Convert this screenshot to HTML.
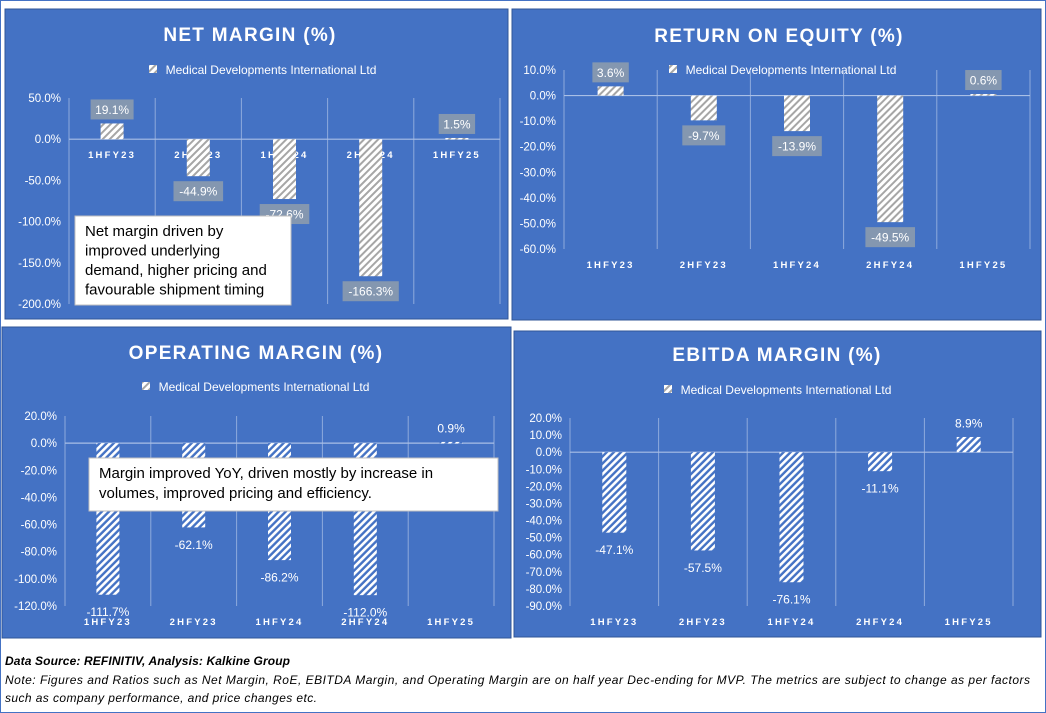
<!DOCTYPE html>
<html><head><meta charset="utf-8"><style>
html,body{margin:0;padding:0;background:#fff;}
svg{display:block;font-family:"Liberation Sans",Arial,sans-serif;}
</style></head><body>
<svg id="s" width="1046" height="713" viewBox="0 0 1046 713" xmlns="http://www.w3.org/2000/svg">
<defs>
<pattern id="hg" patternUnits="userSpaceOnUse" width="5" height="5" patternTransform="rotate(45)"><rect width="5" height="5" fill="#fff"/><rect width="2" height="5" fill="#a6a6a6"/></pattern>
<pattern id="hb" patternUnits="userSpaceOnUse" width="5" height="5" patternTransform="rotate(45)"><rect width="5" height="5" fill="#4472c4"/><rect width="2.6" height="5" fill="#fff"/></pattern>
</defs>
<rect x="0.5" y="0.5" width="1045" height="712" fill="#fff" stroke="#4472c4"/>
<g id="charts"></g>
<text x="5" y="665" font-size="12" font-weight="bold" font-style="italic" fill="#000" textLength="285">Data Source: REFINITIV, Analysis: Kalkine Group</text>
<text x="5" y="684" font-size="12" font-style="italic" fill="#000" textLength="1025">Note: Figures and Ratios such as  Net Margin, RoE, EBITDA Margin, and Operating Margin are on half year Dec-ending for MVP. The metrics are subject to change as per factors</text>
<text x="5" y="702" font-size="12" font-style="italic" fill="#000" textLength="312">such as company performance, and price changes etc.</text>
</svg>
<script>
const categories = ["1HFY23","2HFY23","1HFY24","2HFY24","1HFY25"];
const netMargin = [19.1,-44.9,-72.6,-166.3,1.5];
const roe = [3.6,-9.7,-13.9,-49.5,0.6];
const opMargin = [-111.7,-62.1,-86.2,-112.0,0.9];
const ebitda = [-47.1,-57.5,-76.1,-11.1,8.9];
const nmTicks = [50,0,-50,-100,-150,-200];
const roeTicks = [10,0,-10,-20,-30,-40,-50,-60];
const omTicks = [20,0,-20,-40,-60,-80,-100,-120];
const ebTicks = [20,10,0,-10,-20,-30,-40,-50,-60,-70,-80,-90];

const NS="http://www.w3.org/2000/svg";
const root=document.getElementById('charts');
function mk(tag,attrs,parent,text){const e=document.createElementNS(NS,tag);for(const k in attrs)e.setAttribute(k,attrs[k]);if(text!==undefined)e.textContent=text;(parent||root).appendChild(e);return e;}

const charts=[
 {key:'net-margin',title:'NET MARGIN (%)',vals:netMargin,ticks:nmTicks,panel:[5,9,503,310],tx:250,ty:41,ly:74,lx:265,
  px0:69,px1:500,py0:98,py1:304,catY:159,fill:'url(#hg)',boxed:true,catAtZero:true,bw:23,
  note:{x:75,y:216,w:216,h:89,lines:['Net margin driven by','improved underlying','demand, higher pricing and','favourable shipment timing'],fs:15,lh:19.5}},
 {key:'return-on-equity',title:'RETURN ON EQUITY (%)',vals:roe,ticks:roeTicks,panel:[512,9,529,311],tx:779,ty:42,ly:74,lx:785,
  px0:564,px1:1030,py0:70,py1:249,catY:268,fill:'url(#hg)',boxed:true,catAtZero:false,bw:26},
 {key:'operating-margin',title:'OPERATING MARGIN (%)',vals:opMargin,ticks:omTicks,panel:[2,327,509,311],tx:256,ty:359,ly:391,lx:258,
  px0:65,px1:494,py0:416,py1:606,catY:625,fill:'url(#hb)',boxed:false,catAtZero:false,bw:23,
  note:{x:89,y:458,w:409,h:53,lines:['Margin improved YoY, driven mostly by increase in','volumes, improved pricing and efficiency.'],fs:15,lh:20}},
 {key:'ebitda-margin',title:'EBITDA MARGIN (%)',vals:ebitda,ticks:ebTicks,panel:[514,331,527,306],tx:777,ty:361,ly:394,lx:780,
  px0:570,px1:1013,py0:418,py1:606,catY:625,fill:'url(#hb)',boxed:false,catAtZero:false,bw:24}
];

charts.forEach(c=>{
  const g=mk('g',{});
  
  
  const [x,y,w,h]=c.panel;
  const bg=mk('rect',{x:x,y:y,width:w,height:h,fill:'#4472c4',stroke:'#2f5597','stroke-width':1},g);
  
  
  const t=mk('text',{x:c.tx,y:c.ty,'text-anchor':'middle','font-size':19,'font-weight':'bold','letter-spacing':1.3,fill:'#fff'},g,c.title);
  
  
  const lg=mk('g',{},g);
  
  
  mk('text',{x:c.lx+6,y:c.ly,'text-anchor':'middle','font-size':12,fill:'#fff'},lg,'Medical Developments International Ltd');
  mk('rect',{x:c.lx-116,y:c.ly-9,width:8,height:8,fill:'url(#hg)'},lg);
  const tmax=c.ticks[0],tmin=c.ticks[c.ticks.length-1];
  const Y=v=>c.py0+(tmax-v)/(tmax-tmin)*(c.py1-c.py0);
  const step=(c.px1-c.px0)/categories.length;
  const X=i=>c.px0+step*(i+0.5);
  c.ticks.forEach(tv=>{
    const tl=mk('text',{x:c.px0-8,y:Y(tv)+4,'text-anchor':'end','font-size':11.5,fill:'#fff'},g,tv.toFixed(1)+'%');
    
    
  });
  for(let i=0;i<=categories.length;i++){
    mk('line',{x1:c.px0+step*i,x2:c.px0+step*i,y1:c.py0,y2:c.py1,stroke:'#8eaadc','stroke-width':1},g);
  }
  mk('line',{x1:c.px0,x2:c.px1,y1:Y(0),y2:Y(0),stroke:'#a9bfe6','stroke-width':1.2},g);
  categories.forEach((cat,i)=>{
    const cy=c.catAtZero?Y(0)+19:c.catY;
    const cl=mk('text',{x:X(i),y:cy,'text-anchor':'middle','font-size':9.5,'font-weight':'bold','letter-spacing':2.2,fill:'#fff'},g,cat);
    
    
  });
  c.vals.forEach((v,i)=>{
    const y0=Y(0),y1=Y(v);
    const b=mk('rect',{x:X(i)-c.bw/2,y:Math.min(y0,y1),width:c.bw,height:Math.max(1.5,Math.abs(y1-y0)),fill:c.fill},g);
    
    
    const lbl=v.toFixed(1)+'%';
    const ly=v>=0?y1-14:y1+(c.boxed?15:17);
    if(c.boxed){
      const bw=lbl.length*6.6+10;
      mk('rect',{x:X(i)-bw/2,y:ly-10,width:bw,height:20,fill:'#8497b0'},g);
    }
    const dl=mk('text',{x:X(i),y:ly+4.5,'text-anchor':'middle','font-size':12,fill:'#fff'},g,lbl);
    
    
  });
  if(c.note){
    const n=c.note;
    const ng=mk('g',{},g);
    
    
    mk('rect',{x:n.x,y:n.y,width:n.w,height:n.h,fill:'#fff',stroke:'#bfbfbf'},ng);
    n.lines.forEach((ln,k)=>{
      mk('text',{x:n.x+10,y:n.y+20+k*n.lh,'font-size':n.fs,fill:'#000'},ng,ln);
    });
  }
});
</script>
</body></html>
